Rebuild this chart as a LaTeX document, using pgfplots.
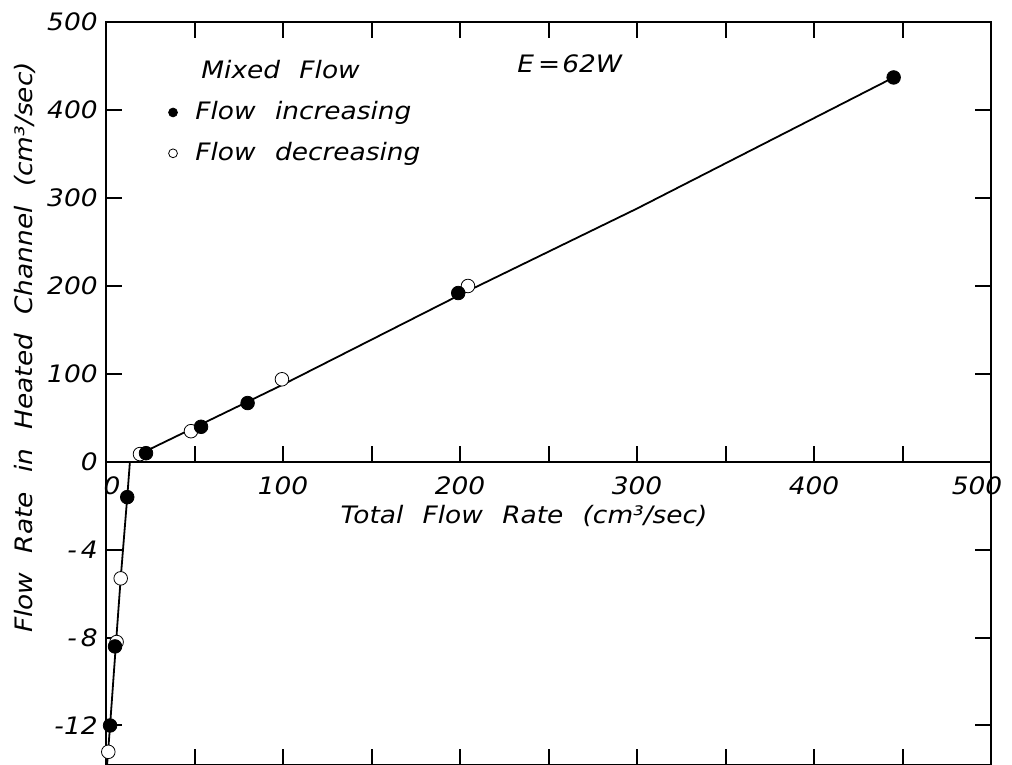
\documentclass[border=0pt]{standalone}
\usepackage{fontspec}
\setmainfont{DejaVu Sans Oblique}[FakeStretch=1.1, WordSpace=2.3]
\usepackage{pgfplots}
\pgfplotsset{compat=1.18}
\pgfplotsset{
  base/.style={
    scale only axis, width=442.5pt, xmin=0, xmax=500,
    axis line style={line width=1pt},
    every tick/.style={line width=1pt, black},
    tick align=inside, major tick length=8pt,
    /pgf/number format/assume math mode=true,
    clip=false,
  }
}
\begin{document}
\fontsize{12}{14}\selectfont
\begin{tikzpicture}
\useasboundingbox (0,0) rectangle (506pt,382.5pt);
% lower part (negative flow)
\begin{axis}[base, at={(53pt,0pt)}, anchor=south west, height=151.5pt,
  ymin=-13.8, ymax=0,
  xtick={50,100,...,450}, xtick pos=lower, xticklabels={},
  ytick={-12,-8,-4}, yticklabels={-12,-\,8,-\,4}, ytick pos=both, yticklabel pos=left]
\addplot[black, line width=0.9pt] coordinates {(13.5,0) (12,-1.6) (8.3,-5.3) (5.6,-8.3) (2.3,-12) (0.6,-13.8)};
\addplot[only marks, mark=*, mark size=3.4pt, draw=black, fill=white] coordinates {(8.3,-5.3) (6,-8.2) (1.3,-13.2)};
\addplot[only marks, mark=*, mark size=3.4pt, black] coordinates {(12,-1.6) (5.1,-8.4) (2.3,-12.0)};
\end{axis}
% upper part
\begin{axis}[base, at={(53pt,151.5pt)}, anchor=south west, height=220pt,
  ymin=0, ymax=500,
  xtick={0,50,...,500}, xticklabels={\hspace*{6pt}0,,100,,200,,300,,400,,500\hspace*{14pt}},
  xtick pos=both, xticklabel pos=lower, xticklabel style={yshift=-3pt},
  ytick={0,100,...,500}, ytick pos=both, yticklabel pos=left,
  legend style={at={(axis cs:28,461)}, anchor=north west, draw=none, fill=none, inner sep=0pt, row sep=5.5pt,
    /tikz/every odd column/.append style={column sep=7pt}},
  legend cell align=left]
\addplot[black, line width=0.9pt, forget plot] coordinates {(17,7) (100,88) (200,190) (300,288) (445,437)};
\addplot[only marks, mark=*, mark size=3.4pt, draw=black, fill=white, forget plot] coordinates {(19.2,9) (48,35) (99.4,94) (204.5,200)};
\addplot[only marks, mark=*, mark size=3.4pt, black, forget plot] coordinates {(22.6,10) (53.7,40) (80,67) (199,192) (445,437)};
\addlegendimage{empty legend}
\addlegendentry{\hspace*{3pt}Mixed Flow}
\addlegendimage{only marks, mark=*, mark size=2.2pt, black}
\addlegendentry{Flow increasing}
\addlegendimage{only marks, mark=*, mark size=2.2pt, draw=black, fill=white}
\addlegendentry{Flow decreasing}
\node at (axis cs:262,453) {E\kern2pt=\kern1pt62W};
\end{axis}
\node at (262pt,124.5pt) {Total Flow Rate (cm³/sec)};
\node[rotate=90] at (12.5pt,208.75pt) {Flow Rate in Heated Channel (cm³/sec)};
\end{tikzpicture}
\end{document}
